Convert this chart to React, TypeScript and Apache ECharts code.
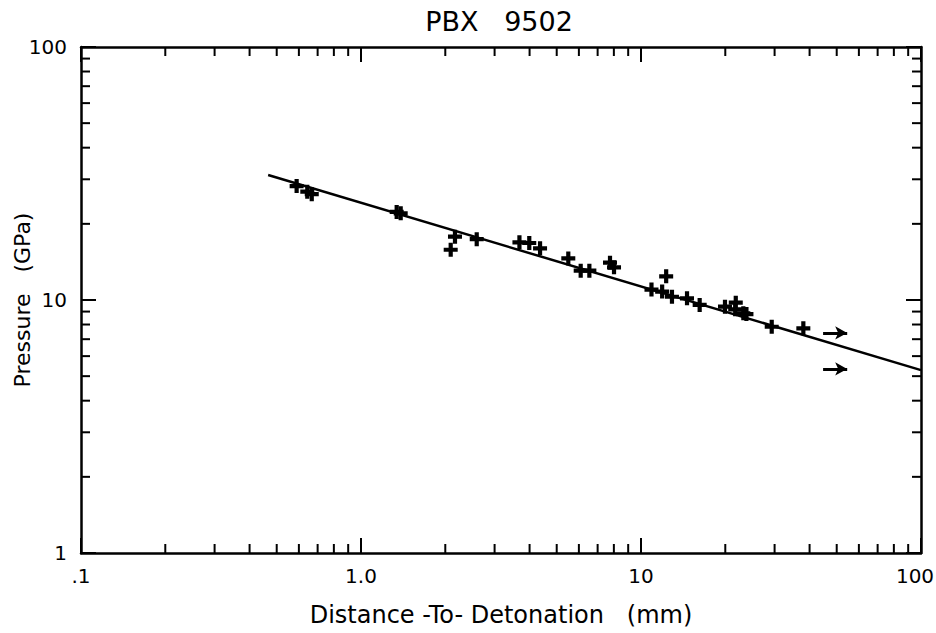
import React, { useEffect, useRef } from "react";
import * as echarts from "echarts";

// Measured data points (distance mm, pressure GPa)
const distance = [
  0.589, 0.643, 0.667, 1.341, 1.386, 2.166, 2.091, 2.59, 3.68, 3.99, 4.36, 5.5,
  6.09, 6.54, 7.75, 8.01, 10.9, 12.3, 11.9, 12.9, 14.6, 16.2, 19.95, 21.8, 21.7,
  23.2, 23.8, 29.3, 38.0,
];
const pressure = [
  28.2, 26.8, 26.2, 22.3, 22.0, 17.8, 15.8, 17.4, 16.9, 16.8, 16.0, 14.6, 13.06,
  13.06, 14.04, 13.46, 11.0, 12.4, 10.8, 10.3, 10.15, 9.56, 9.41, 9.76, 9.19,
  8.86, 8.8, 7.84, 7.73,
];

// Fitted line end points
const fitX = [0.466, 100];
const fitY = [31.2, 5.28];

// Arrows (lower bounds)
const arrowStartX = [44.7, 44.7];
const arrowEndX = [54.5, 54.5];
const arrowY = [7.41, 5.34];

// Tick labels
const xTickLabels: Record<string, string> = { "0.1": ".1", "1": "1.0", "10": "10", "100": "{r|100}" };
const yTickLabels: Record<string, string> = { "1": "1", "10": "10", "100": "100" };

const xMinorTicks = [0.2, 0.3, 0.4, 0.5, 0.6, 0.7, 0.8, 0.9, 2, 3, 4, 5, 6, 7, 8, 9, 20, 30, 40, 50, 60, 70, 80, 90];
const yMinorTicks = [2, 3, 4, 5, 6, 7, 8, 9, 20, 30, 40, 50, 60, 70, 80, 90];

const FONT = "DejaVu Sans";
const INK = "#000";

const plusPath = "path://M3.5,0H6.5V3.5H10V6.5H6.5V10H3.5V6.5H0V3.5H3.5Z";

export default function App() {
  const ref = useRef<HTMLDivElement>(null);
  useEffect(() => {
    if (!ref.current) return;
    const chart = echarts.init(ref.current, null, { renderer: "svg" });
    const axisLine = { show: true, lineStyle: { color: INK, width: 2.5 } };
    const majorTick = { show: true, inside: true, length: 15, lineStyle: { color: INK, width: 2 } };
    chart.setOption({
      animation: false,
      backgroundColor: "#fff",
      title: {
        text: "PBX   9502",
        left: 494,
        textAlign: "center",
        top: 3,
        textStyle: { fontFamily: FONT, fontSize: 27, fontWeight: "normal", color: INK },
      },
      grid: { left: 81, right: 15, top: 47, bottom: 80, outerBoundsMode: "none", containLabel: false },
      xAxis: [
        {
          type: "log",
          logBase: 10,
          min: 0.1,
          max: 100,
          position: "bottom",
          axisLine,
          axisTick: majorTick,
          splitLine: { show: false },
          axisLabel: {
            margin: 13,
            fontFamily: FONT,
            fontSize: 20,
            color: INK,
            formatter: (v: number) => xTickLabels[String(+v.toPrecision(3))] ?? "",
            rich: { r: { fontFamily: FONT, fontSize: 20, color: INK, padding: [0, 12, 0, 0] } },
          },
          name: "Distance -To- Detonation   (mm)",
          nameLocation: "middle",
          nameGap: 50,
          nameMoveOverlap: false,
          nameTextStyle: { fontFamily: FONT, fontSize: 24, color: INK },
        },
        {
          type: "log",
          logBase: 10,
          min: 0.1,
          max: 100,
          position: "top",
          axisLine,
          axisTick: majorTick,
          splitLine: { show: false },
          axisLabel: { show: false },
        },
      ],
      yAxis: [
        {
          type: "log",
          logBase: 10,
          min: 1,
          max: 100,
          position: "left",
          axisLine,
          axisTick: majorTick,
          splitLine: { show: false },
          axisLabel: {
            margin: 14,
            fontFamily: FONT,
            fontSize: 20,
            color: INK,
            formatter: (v: number) => yTickLabels[String(+v.toPrecision(3))] ?? "",
          },
          name: "Pressure   (GPa)",
          nameLocation: "middle",
          nameGap: 48,
          nameMoveOverlap: false,
          nameTextStyle: { fontFamily: FONT, fontSize: 22, color: INK },
        },
        {
          type: "log",
          logBase: 10,
          min: 1,
          max: 100,
          position: "right",
          axisLine,
          axisTick: majorTick,
          splitLine: { show: false },
          axisLabel: { show: false },
        },
      ],
      series: [
        {
          type: "line",
          data: fitX.map((x, i) => [x, fitY[i]]),
          symbol: "none",
          lineStyle: { color: INK, width: 2.5 },
          z: 2,
        },
        {
          type: "scatter",
          data: distance.map((x, i) => [x, pressure[i]]),
          symbol: plusPath,
          symbolSize: 14,
          itemStyle: { color: INK, opacity: 1 },
          z: 3,
        },
        {
          type: "line",
          data: [],
          symbol: "none",
          markLine: {
            silent: true,
            symbol: ["none", "arrow"],
            symbolSize: [10, 12],
            label: { show: false },
            lineStyle: { color: INK, width: 3, type: "solid" },
            data: arrowY.map((y, i) => [
              { coord: [arrowStartX[i], y] },
              { coord: [arrowEndX[i], y] },
            ]),
          },
        },
        {
          type: "custom",
          clip: false,
          data: xMinorTicks.map((v) => [v, 1]),
          renderItem: (params: any, api: any) => {
            const v = api.value(0);
            const b = api.coord([v, 1]);
            const t = api.coord([v, 100]);
            const style = { stroke: INK, lineWidth: 2 };
            return {
              type: "group",
              children: [
                { type: "line", shape: { x1: b[0], y1: b[1], x2: b[0], y2: b[1] - 9 }, style },
                { type: "line", shape: { x1: t[0], y1: t[1], x2: t[0], y2: t[1] + 9 }, style },
              ],
            };
          },
        },
        {
          type: "custom",
          clip: false,
          data: yMinorTicks.map((v) => [0.1, v]),
          renderItem: (params: any, api: any) => {
            const v = api.value(1);
            const l = api.coord([0.1, v]);
            const r = api.coord([100, v]);
            const style = { stroke: INK, lineWidth: 2 };
            return {
              type: "group",
              children: [
                { type: "line", shape: { x1: l[0], y1: l[1], x2: l[0] + 9, y2: l[1] }, style },
                { type: "line", shape: { x1: r[0], y1: r[1], x2: r[0] - 9, y2: r[1] }, style },
              ],
            };
          },
        },
      ],
    });
    return () => chart.dispose();
  }, []);
  return (
    <div
      ref={ref}
      style={{ position: "absolute", left: 0, top: 0, width: 936, height: 633 }}
    />
  );
}
